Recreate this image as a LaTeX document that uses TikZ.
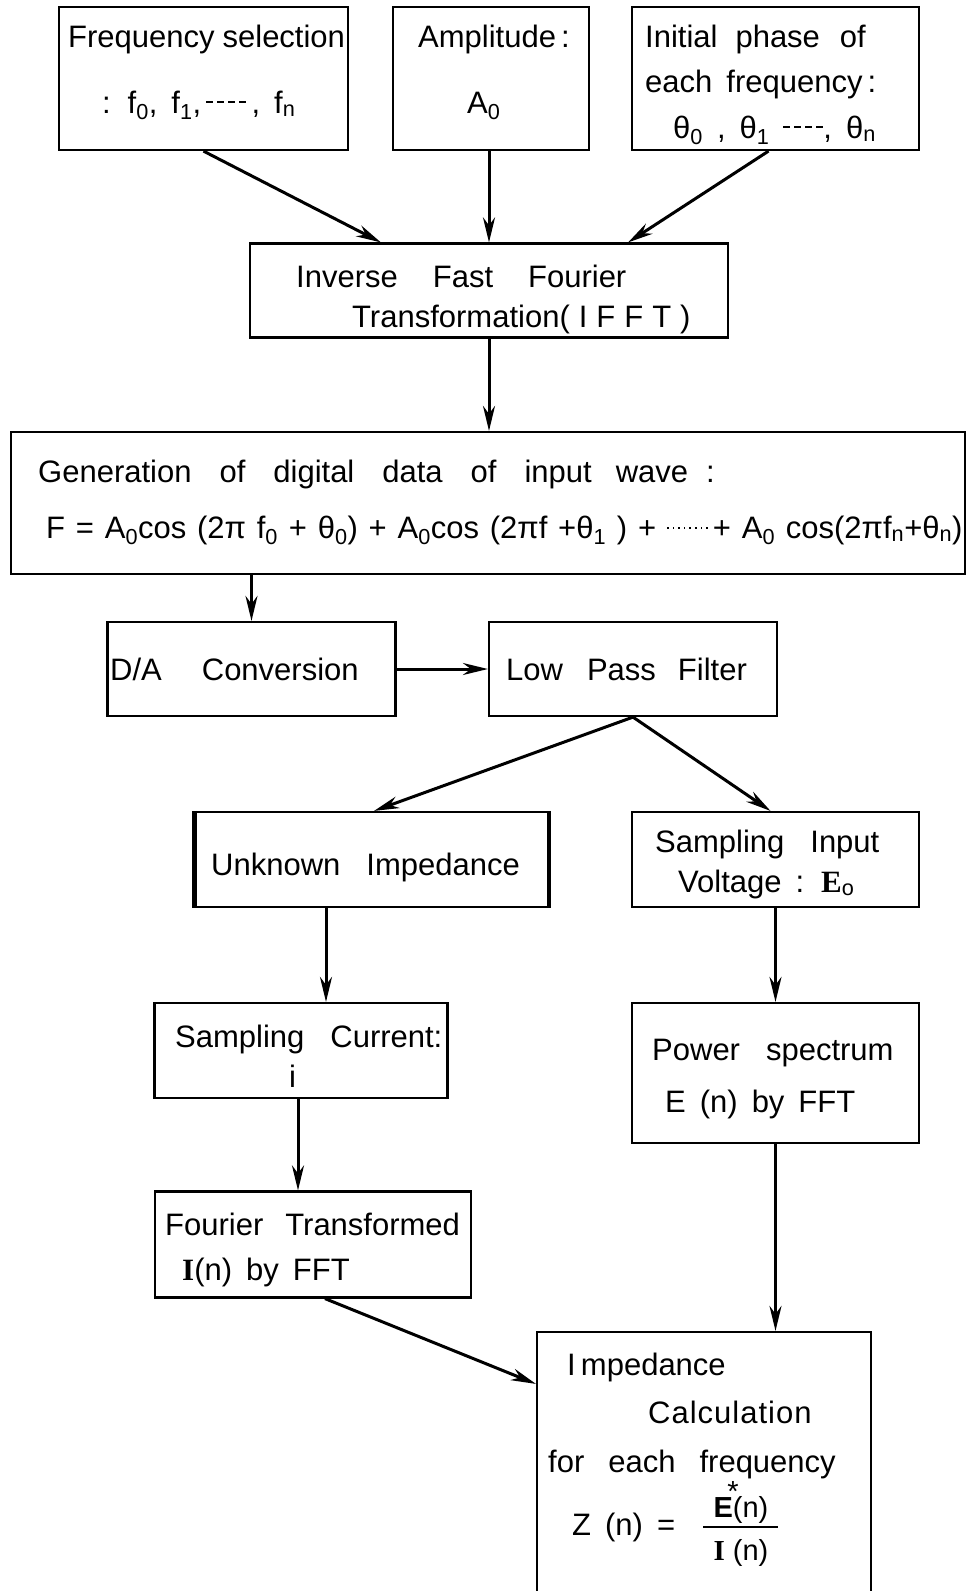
\documentclass[tikz,border=0pt]{standalone}
\usepackage{fontspec}
\setmainfont{Liberation Sans}
\newfontfamily\bserif{Liberation Serif}
\usetikzlibrary{arrows.meta}
\newcommand{\wgap}[1]{\hspace*{#1pt}}
\newcommand{\sbs}[1]{\textsubscript{#1}}
\newcommand{\bigtxt}{\fontsize{31}{37}\selectfont\spaceskip=14pt\relax}
\newcommand{\plaintxt}{\fontsize{31}{37}\selectfont\spaceskip=10.8pt\relax}
\newcommand{\midtxt}{\fontsize{29}{35}\selectfont}
\newcommand{\dashrow}{\raisebox{0.32em}{\rule{7pt}{1.6pt}\hspace{4pt}\rule{7pt}{1.6pt}\hspace{4pt}\rule{7pt}{1.6pt}\hspace{4pt}\rule{7pt}{1.6pt}}}
\newcommand{\dotrow}{\raisebox{0.3em}{\rule{1.6pt}{1.6pt}\hspace{4pt}\rule{1.6pt}{1.6pt}\hspace{4pt}\rule{1.6pt}{1.6pt}\hspace{4pt}\rule{1.6pt}{1.6pt}\hspace{4pt}\rule{1.6pt}{1.6pt}\hspace{4pt}\rule{1.6pt}{1.6pt}\hspace{4pt}\rule{1.6pt}{1.6pt}\hspace{4pt}\rule{1.6pt}{1.6pt}}}
\begin{document}
\begin{tikzpicture}[x=1pt,y=-1pt,
  box/.style={draw, line width=2.2pt, inner sep=0pt},
  arr/.style={line width=3pt, -{Stealth[length=25pt,width=12pt,inset=8pt]}},
  txt/.style={anchor=base west, inner sep=0pt, font=\bigtxt},
  ctxt/.style={anchor=base, inner sep=0pt, font=\midtxt},
]
\useasboundingbox (0,0) rectangle (968,1591);

% boxes
\node[box, minimum width=289pt, minimum height=143pt] (b1) at (203.5,78.5) {};
\node[box, minimum width=196pt, minimum height=143pt] (b2) at (491,78.5) {};
\node[box, minimum width=287pt, minimum height=143pt] (b3) at (775.5,78.5) {};
\node[box, minimum width=478pt, minimum height=94pt] (b4) at (489,290.5) {};
\node[box, minimum width=954pt, minimum height=142pt] (b5) at (488,503) {};
\node[box, minimum width=288pt, minimum height=94pt] (b6) at (251.5,669) {};
\node[box, minimum width=288pt, minimum height=94pt] (b7) at (633,669) {};
\node[box, minimum width=352pt, minimum height=95pt] (b8) at (372,859.5) {};
\node[box, minimum width=287pt, minimum height=95pt] (b9) at (775.5,859.5) {};
\node[box, minimum width=293pt, minimum height=95pt] (b10) at (301,1050.5) {};
\node[box, minimum width=287pt, minimum height=140pt] (b11) at (775.5,1073) {};
\node[box, minimum width=316pt, minimum height=106pt] (b12) at (313,1244.5) {};
\node[box, minimum width=334pt, minimum height=290pt] (b13) at (704,1477) {};
\draw[line width=5pt] (b8.north west) -- (b8.south west);
\draw[line width=4pt] (b8.north east) -- (b8.south east);

% texts
\node[txt] (t1a) at (68,47) {Frequency\wgap{8}selection};
\node[txt] (t1b) at (102,113) {: f\sbs{0}, f\sbs{1},\,\dashrow\,, f\sbs{n}};
\node[txt] (t2a) at (418,47) {Amplitude\,:};
\node[txt] (t2b) at (467,113) {A\sbs{0}};
\node[txt] (t3a) at (645,47) {Initial\wgap{18}phase\wgap{20}of};
\node[txt] (t3b) at (645,92) {each frequency\,:};
\node[txt] (t3c) at (673,138) {θ\sbs{0} , θ\sbs{1} \dashrow, θ\sbs{n}};
\node[txt] (t4a) at (296,287) {Inverse\wgap{35}Fast\wgap{35}Fourier};
\node[txt] (t4b) at (352,327) {Transformation(\hspace{9pt}I\hspace{9pt}F\hspace{9pt}F\hspace{9pt}T\hspace{9pt})};
\node[txt] (t5a) at (38,482) {Generation\wgap{28}of\wgap{28}digital\wgap{28}data\wgap{28}of\wgap{28}input\wgap{24}wave\wgap{18}:};
\node[txt, font=\plaintxt] (t5b) at (46,538) {F = A\sbs{0}cos (2π f\sbs{0} + θ\sbs{0}) + A\sbs{0}cos (2πf +θ\sbs{1} ) + \dotrow\,+ A\sbs{0} cos(2πf\sbs{n}+θ\sbs{n})};
\node[txt] (t6) at (110,680) {D/A\wgap{40}Conversion};
\node[txt] (t7) at (506,680) {Low\wgap{24}Pass\wgap{22}Filter};
\node[txt] (t8) at (211,875) {Unknown\wgap{26}Impedance};
\node[txt] (t9a) at (655,852) {Sampling\wgap{26}Input};
\node[txt] (t9b) at (678,892) {Voltage : {\bserif\bfseries E}\sbs{o}};
\node[txt] (t10a) at (175,1047) {Sampling\wgap{26}Current:};
\node[txt] (t10b) at (289,1087) {i};
\node[txt] (t11a) at (652,1060) {Power\wgap{26}spectrum};
\node[txt] (t11b) at (665,1112) {E (n) by FFT};
\node[txt] (t12a) at (165,1235) {Fourier\wgap{22}Transformed};
\node[txt] (t12b) at (182,1280) {{\bserif\bfseries I}(n) by FFT};
\node[txt] (t13a) at (567,1375) {I\,mpedance};
\node[txt] (t13b) at (648,1423) {C\hspace{1pt}a\hspace{1pt}l\hspace{1pt}c\hspace{1pt}u\hspace{1pt}l\hspace{1pt}a\hspace{1pt}t\hspace{1pt}i\hspace{1pt}o\hspace{1pt}n};
\node[txt] (t13c) at (548,1472) {for\wgap{24}each\wgap{24}frequency};
\node[txt] (t13d) at (572,1535) {Z (n) =};
\node[ctxt] (t13e) at (741,1517) {{\bfseries E}\raisebox{0.55em}{\makebox[0pt]{*}}(n)};
\node[ctxt] (t13f) at (741,1560) {{\bserif\bfseries I} (n)};
\draw[line width=2pt] (703,1527) -- (778,1527);

% connectors
\draw[arr] (b1.south) -- ([xshift=132pt]b4.north west);
\draw[arr] (b4.north |- b2.south) -- (b4.north);
\draw[arr] ([xshift=-7pt]b3.south) -- ([xshift=-101pt]b4.north east);
\draw[arr] (b4.south) -- (b4.south |- b5.north);
\draw[arr] (b6.north |- b5.south) -- (b6.north);
\draw[arr] (b6.east) -- (b7.west);
\draw[arr] (b7.south) -- ([xshift=2pt]b8.north);
\draw[arr] (b7.south) -- ([xshift=-5pt]b9.north);
\draw[arr] ([xshift=25pt]b10.north |- b8.south) -- ([xshift=25pt]b10.north);
\draw[arr] (b9.south) -- (b11.north);
\draw[arr] ([xshift=-3pt]b10.south) -- ([xshift=-3pt]b10.south |- b12.north);
\draw[arr] (b11.south) -- (b11.south |- b13.north);
\draw[arr] ([xshift=12pt]b12.south) -- ([yshift=-53pt]b13.north west);
\end{tikzpicture}
\end{document}
